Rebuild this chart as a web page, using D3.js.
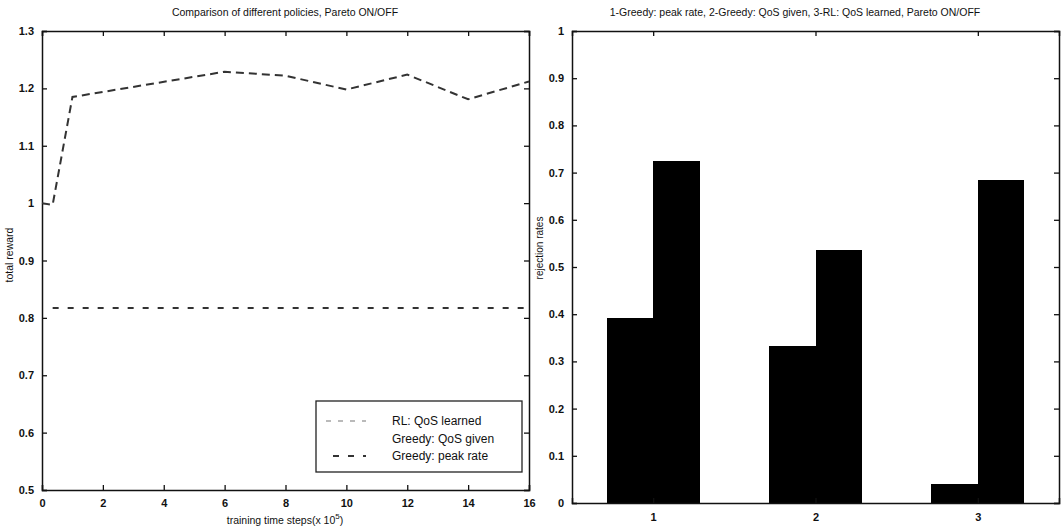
<!DOCTYPE html>
<html>
<head>
<meta charset="utf-8">
<script src="https://cdn.jsdelivr.net/npm/d3@7"></script>
<style>
  body { margin: 0; background: #fff; }
  text { font-family: "Liberation Sans", Arial, sans-serif; fill: #111; }
</style>
</head>
<body>
<script>
// left panel data
var steps = [0, 0.35, 1, 6, 8, 10, 12, 14, 16]
var rlReward = [1.0, 0.997, 1.185, 1.229, 1.222, 1.198, 1.224, 1.181, 1.212]
var peakSteps = [0.35, 16]
var peakReward = [0.817, 0.817]
var leftXTicks = [0, 2, 4, 6, 8, 10, 12, 14, 16]
var leftYTicks = [0.5, 0.6, 0.7, 0.8, 0.9, 1.0, 1.1, 1.2, 1.3]
var legendLabels = ["RL: QoS learned", "Greedy: QoS given", "Greedy: peak rate"]

// right panel data
var policies = [1, 2, 3]
var rejectA = [0.393, 0.333, 0.04]
var rejectB = [0.725, 0.535, 0.685]
var rightYTicks = [0, 0.1, 0.2, 0.3, 0.4, 0.5, 0.6, 0.7, 0.8, 0.9, 1]

var svg = d3.select("body").append("svg").attr("width", 1062).attr("height", 529)

function fmt(d) { return d == 0 || d == 1 ? String(d) : d3.format(".1f")(d) }

// ---------- left panel ----------
var lx = d3.scaleLinear().domain([0, 16]).range([42, 529])
var ly = d3.scaleLinear().domain([0.5, 1.3]).range([490, 31])

var left = svg.append("g")

left.append("g").attr("transform", "translate(0,490)")
  .call(d3.axisBottom(lx).tickValues(leftXTicks).tickSize(-5).tickPadding(9).tickFormat(d3.format("d")))
left.append("g").attr("transform", "translate(0,31)")
  .call(d3.axisTop(lx).tickValues(leftXTicks).tickSize(-5).tickFormat(""))
left.append("g").attr("transform", "translate(42,0)")
  .call(d3.axisLeft(ly).tickValues(leftYTicks).tickSize(-5).tickPadding(8).tickFormat(fmt))
left.append("g").attr("transform", "translate(529,0)")
  .call(d3.axisRight(ly).tickValues(leftYTicks).tickSize(-5).tickFormat(""))

var line = d3.line().x(function(d) { return lx(d[0]) }).y(function(d) { return ly(d[1]) })

left.append("path")
  .datum(d3.zip(steps, rlReward))
  .attr("d", line)
  .attr("fill", "none")
  .attr("stroke", "#333")
  .attr("stroke-width", 2)
  .attr("stroke-dasharray", "8,5")

left.append("path")
  .datum(d3.zip(peakSteps, peakReward))
  .attr("d", line)
  .attr("fill", "none")
  .attr("stroke", "#333")
  .attr("stroke-width", 2)
  .attr("stroke-dasharray", "6,9")

left.append("text").attr("x", 285).attr("y", 16).attr("text-anchor", "middle")
  .attr("font-size", 10.5).attr("font-weight", 500).text("Comparison of different policies, Pareto ON/OFF")

var xl = left.append("text").attr("x", 285).attr("y", 524).attr("text-anchor", "middle")
  .attr("font-size", 10.5)
xl.append("tspan").text("training time steps(x 10")
xl.append("tspan").attr("dy", -5).attr("font-size", 8).text("5")
xl.append("tspan").attr("dy", 5).text(")")

left.append("text").attr("transform", "translate(13,255) rotate(-90)")
  .attr("text-anchor", "middle").attr("font-size", 10.5).text("total reward")

// legend
var lg = left.append("g")
lg.append("rect").attr("x", 316).attr("y", 401).attr("width", 206).attr("height", 71)
  .attr("fill", "#fff").attr("stroke", "#222").attr("stroke-width", 1.3)
var legendDash = ["5,7", null, "6,9"]
legendLabels.forEach(function(t, i) {
  var y = 421 + i * 17.5
  if (legendDash[i]) {
    lg.append("line").attr("x1", i == 0 ? 326 : 333).attr("x2", 366).attr("y1", y).attr("y2", y)
      .attr("stroke", i == 0 ? "#777" : "#333").attr("stroke-width", i == 0 ? 1.2 : 2)
      .attr("stroke-dasharray", legendDash[i])
  }
  lg.append("text").attr("x", 392).attr("y", y + 4).attr("font-size", 12).text(t)
})

// ---------- right panel ----------
var rx = d3.scaleLinear().domain([0.5, 3.5]).range([572, 1059])
var ry = d3.scaleLinear().domain([0, 1]).range([503, 31])
var barW = 0.286

var right = svg.append("g")

right.selectAll(".barA").data(policies).enter().append("rect")
  .attr("x", function(d) { return rx(d - barW) })
  .attr("width", function(d) { return rx(d) - rx(d - barW) + 0.5 })
  .attr("y", function(d, i) { return ry(rejectA[i]) })
  .attr("height", function(d, i) { return ry(0) - ry(rejectA[i]) })
  .attr("fill", "#000")
  .attr("shape-rendering", "crispEdges")

right.selectAll(".barB").data(policies).enter().append("rect")
  .attr("x", function(d) { return rx(d) })
  .attr("width", function(d) { return rx(d + barW) - rx(d) })
  .attr("y", function(d, i) { return ry(rejectB[i]) })
  .attr("height", function(d, i) { return ry(0) - ry(rejectB[i]) })
  .attr("fill", "#000")
  .attr("shape-rendering", "crispEdges")

right.append("g").attr("transform", "translate(0,503)")
  .call(d3.axisBottom(rx).tickValues(policies).tickSize(-5).tickPadding(10).tickFormat(d3.format("d")))
right.append("g").attr("transform", "translate(0,31)")
  .call(d3.axisTop(rx).tickValues(policies).tickSize(-5).tickFormat(""))
right.append("g").attr("transform", "translate(572,0)")
  .call(d3.axisLeft(ry).tickValues(rightYTicks).tickSize(-5).tickPadding(8).tickFormat(fmt))
right.append("g").attr("transform", "translate(1059,0)")
  .call(d3.axisRight(ry).tickValues(rightYTicks).tickSize(-5).tickFormat(""))

right.append("text").attr("x", 795).attr("y", 16).attr("text-anchor", "middle")
  .attr("font-size", 10.5).attr("font-weight", 500).text("1-Greedy: peak rate, 2-Greedy: QoS given, 3-RL: QoS learned, Pareto ON/OFF")

right.append("text").attr("transform", "translate(543,248) rotate(-90)")
  .attr("text-anchor", "middle").attr("font-size", 10).text("rejection rates")

// axis styling
svg.selectAll(".domain").attr("stroke", "#111").attr("stroke-width", 1.5)
svg.selectAll(".tick line").attr("stroke", "#111").attr("stroke-width", 1.3)
svg.selectAll(".tick text").attr("font-size", 11).attr("font-weight", "bold").attr("fill", "#111")
</script>
</body>
</html>
